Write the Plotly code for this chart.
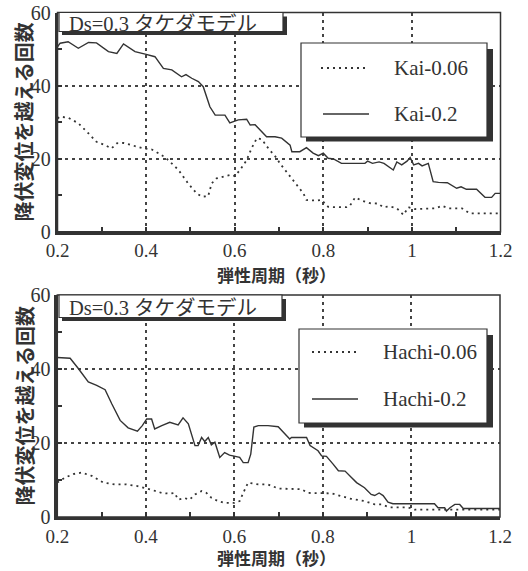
import plotly.graph_objects as go

# ---- data -------------------------------------------------------------
x_ticks = [0.2, 0.4, 0.6, 0.8, 1.0, 1.2]
x_tick_labels = ["0.2", "0.4", "0.6", "0.8", "1", "1.2"]
x_minor = [0.3, 0.5, 0.7, 0.9, 1.1]
y_ticks = [0, 20, 40, 60]
y_tick_labels = ["0", "20", "40", "60"]
y_minor = [10, 30, 50]

kai_02_period = [0.2, 0.206, 0.224, 0.247, 0.27, 0.288, 0.315, 0.334, 0.349, 0.375,
                 0.398, 0.42, 0.439, 0.458, 0.48, 0.49, 0.503, 0.518, 0.529, 0.544,
                 0.556, 0.578, 0.589, 0.608, 0.627, 0.635, 0.646, 0.657, 0.672, 0.691,
                 0.706, 0.725, 0.729, 0.747, 0.762, 0.777, 0.789, 0.8, 0.811, 0.823,
                 0.841, 0.894, 0.9, 0.911, 0.926, 0.937, 0.958, 0.966, 0.977, 0.989,
                 0.996, 1.004, 1.015, 1.023, 1.037, 1.048, 1.06, 1.08, 1.101, 1.111,
                 1.123, 1.146, 1.165, 1.18, 1.188, 1.2]
kai_02_count = [50.6, 51.6, 52.0, 50.2, 51.8, 51.7, 49.3, 48.8, 51.4, 49.3,
                48.6, 47.9, 44.7, 44.3, 42.4, 43.0, 42.0, 41.1, 39.7, 34.2,
                31.9, 31.9, 29.8, 30.6, 30.8, 29.2, 29.3, 27.8, 26.0, 26.0,
                25.6, 23.7, 21.9, 21.9, 23.0, 21.5, 20.8, 21.5, 20.1, 19.9,
                18.7, 18.7, 19.3, 18.7, 19.1, 18.7, 16.9, 19.1, 18.3, 19.3,
                20.3, 18.3, 18.7, 18.0, 18.7, 13.7, 13.5, 13.4, 11.9, 12.3,
                11.6, 11.6, 9.4, 9.4, 10.5, 10.5]

kai_006_period = [0.2, 0.206, 0.224, 0.247, 0.27, 0.288, 0.307, 0.322, 0.334, 0.349,
                  0.367, 0.394, 0.413, 0.435, 0.45, 0.473, 0.495, 0.514, 0.526, 0.54,
                  0.548, 0.559, 0.578, 0.593, 0.6, 0.612, 0.627, 0.638, 0.65, 0.661,
                  0.676, 0.695, 0.702, 0.717, 0.736, 0.755, 0.762, 0.785, 0.796, 0.811,
                  0.826, 0.853, 0.86, 0.872, 0.887, 0.905, 0.924, 0.935, 0.95, 0.966,
                  0.981, 0.992, 1.007, 1.03, 1.053, 1.068, 1.083, 1.113, 1.131, 1.157,
                  1.2]
kai_006_count = [31.0, 31.5, 31.2, 29.7, 26.9, 24.6, 23.7, 22.8, 24.2, 24.3,
                 23.7, 22.8, 22.5, 21.0, 19.6, 16.9, 13.2, 10.5, 9.6, 9.7,
                 13.2, 14.6, 15.2, 15.6, 15.2, 16.9, 19.6, 22.8, 25.6, 25.3,
                 22.8, 20.1, 18.7, 16.4, 13.7, 10.5, 8.7, 8.5, 8.7, 6.8,
                 6.7, 6.7, 7.1, 9.4, 8.5, 7.8, 7.7, 6.7, 6.9, 6.4,
                 4.6, 6.7, 6.2, 6.2, 6.4, 7.1, 6.4, 6.4, 5.0, 5.0,
                 5.0]

hachi_02_period = [0.2, 0.229, 0.247, 0.27, 0.289, 0.308, 0.323, 0.342, 0.36, 0.381,
                   0.392, 0.402, 0.413, 0.42, 0.436, 0.454, 0.473, 0.484, 0.496, 0.503,
                   0.511, 0.518, 0.526, 0.533, 0.541, 0.548, 0.556, 0.567, 0.578, 0.589,
                   0.601, 0.612, 0.62, 0.631, 0.637, 0.644, 0.654, 0.676, 0.699, 0.714,
                   0.725, 0.729, 0.763, 0.771, 0.789, 0.797, 0.808, 0.823, 0.835, 0.85,
                   0.861, 0.876, 0.894, 0.909, 0.917, 0.927, 0.936, 0.947, 0.958, 1.052,
                   1.06, 1.075, 1.079, 1.087, 1.098, 1.109, 1.117, 1.2]
hachi_02_count = [43.1, 42.9, 40.2, 36.5, 35.6, 34.4, 30.6, 26.1, 24.1, 23.2,
                  24.7, 26.5, 26.5, 23.8, 24.7, 25.6, 24.9, 26.8, 25.2, 22.5,
                  19.3, 19.3, 21.5, 20.4, 21.5, 19.5, 20.2, 16.1, 17.4, 16.7,
                  16.3, 16.1, 14.7, 14.7, 17.0, 24.3, 24.7, 24.7, 24.4, 22.4,
                  21.1, 21.5, 21.5, 19.3, 17.9, 16.5, 16.4, 14.3, 12.5, 12.4,
                  11.1, 9.3, 7.9, 6.1, 5.8, 6.5, 5.8, 4.0, 3.6, 3.6,
                  2.5, 2.5, 1.6, 2.5, 3.4, 3.4, 2.3, 2.3]

hachi_006_period = [0.2, 0.217, 0.236, 0.255, 0.278, 0.304, 0.33, 0.356, 0.379, 0.398,
                    0.417, 0.436, 0.454, 0.465, 0.473, 0.488, 0.499, 0.511, 0.526, 0.537,
                    0.548, 0.563, 0.578, 0.6, 0.612, 0.62, 0.631, 0.654, 0.676, 0.699,
                    0.729, 0.751, 0.767, 0.789, 0.819, 0.842, 0.864, 0.894, 0.917, 0.932,
                    0.951, 0.992, 1.007, 1.2]
hachi_006_count = [9.3, 10.6, 11.6, 12.0, 11.1, 9.3, 8.8, 8.8, 8.4, 7.9,
                   7.2, 6.5, 6.3, 6.5, 4.7, 5.1, 4.7, 6.1, 7.0, 6.5,
                   5.2, 4.3, 3.8, 3.8, 4.3, 6.5, 9.3, 8.8, 8.8, 7.7,
                   7.7, 7.5, 6.5, 6.4, 6.4, 5.6, 4.9, 4.3, 3.4, 3.4,
                   2.6, 2.6, 2.0, 2.0]

panel_title = "Ds=0.3 タケダモデル"
x_title = "弾性周期（秒）"
y_title = "降伏変位を越える回数"
top_names = ["Kai-0.06", "Kai-0.2"]
bottom_names = ["Hachi-0.06", "Hachi-0.2"]

# ---- styling ----------------------------------------------------------
W, H = 528, 571
INK = "#333333"
SERIF = "Liberation Serif, Times New Roman, Noto Sans CJK JP, serif"
GOTHIC = "Noto Sans CJK JP, sans-serif"
DOT = "2px,4px"


def xp(px):
    return px / W


def yp(py):
    return 1 - py / H


fig = go.Figure()

series = [
    (kai_006_period, kai_006_count, top_names[0], DOT, "x", "y"),
    (kai_02_period, kai_02_count, top_names[1], "solid", "x", "y"),
    (hachi_006_period, hachi_006_count, bottom_names[0], DOT, "x2", "y2"),
    (hachi_02_period, hachi_02_count, bottom_names[1], "solid", "x2", "y2"),
]
for px_, cnt, name, dash, xa, ya in series:
    fig.add_trace(go.Scatter(
        x=px_, y=cnt, name=name, mode="lines",
        line=dict(color=INK, width=1.4 if dash == "solid" else 1.8, dash=dash),
        xaxis=xa, yaxis=ya, showlegend=False,
    ))

# panel geometry (pixels)
panels = [
    dict(left=57.5, right=500.5, top=12.5, bottom=231.7),
    dict(left=57.3, right=500.0, top=295.0, bottom=517.0),
]

xaxis_common = dict(
    range=[0.2, 1.2], tickvals=x_ticks, ticktext=x_tick_labels,
    ticks="inside", ticklen=5, tickwidth=1.5, tickcolor=INK,
    showline=True, linewidth=2.5, linecolor=INK,
    showgrid=True, gridcolor="#444444", gridwidth=2, griddash="3px,4px",
    zeroline=False, automargin=False,
    minor=dict(tickvals=x_minor, ticks="inside", ticklen=5, tickwidth=1.5,
               tickcolor=INK, showgrid=False),
    tickfont=dict(family=SERIF, size=19, color=INK),
)
yaxis_common = dict(
    range=[0, 60], tickvals=y_ticks, ticktext=y_tick_labels,
    ticks="inside", ticklen=5, tickwidth=1.5, tickcolor=INK,
    showline=True, linewidth=2.5, linecolor=INK,
    showgrid=True, gridcolor="#444444", gridwidth=2, griddash="3px,4px",
    zeroline=False, automargin=False,
    minor=dict(tickvals=y_minor, ticks="inside", ticklen=5, tickwidth=1.5,
               tickcolor=INK, showgrid=False),
    tickfont=dict(family=SERIF, size=20, color=INK),
)

p0, p1 = panels
fig.update_layout(
    xaxis=dict(xaxis_common, domain=[xp(p0["left"]), xp(p0["right"])], anchor="y"),
    yaxis=dict(yaxis_common, domain=[yp(p0["bottom"]), yp(p0["top"])], anchor="x"),
    xaxis2=dict(xaxis_common, domain=[xp(p1["left"]), xp(p1["right"])], anchor="y2"),
    yaxis2=dict(yaxis_common, domain=[yp(p1["bottom"]), yp(p1["top"])], anchor="x2"),
)

shapes = []
annotations = []


def rect(x0, y0, x1, y1, **kw):
    shapes.append(dict(type="rect", xref="paper", yref="paper",
                       x0=xp(x0), x1=xp(x1), y0=yp(y1), y1=yp(y0), layer="above", **kw))


def seg(x0, y0, x1, y1, dash="solid", width=1.4):
    shapes.append(dict(type="line", xref="paper", yref="paper",
                       x0=xp(x0), x1=xp(x1), y0=yp(y0), y1=yp(y1), layer="above",
                       line=dict(color=INK, width=width, dash=dash)))


def text(x, y, s, size, family, anchor="left", vanchor="middle", angle=0, bold=False):
    annotations.append(dict(
        xref="paper", yref="paper", x=xp(x), y=yp(y), text=f"<b>{s}</b>" if bold else s,
        showarrow=False, xanchor=anchor, yanchor=vanchor, textangle=angle,
        font=dict(family=family, size=size, color=INK), borderpad=0,
    ))


# per-panel decorations: frame, title box, legend box, axis titles
deco = [
    dict(panel=p0, tbox=(59, 12.5, 283, 31.5), tcy=23.5,
         lbox=(301, 43, 487, 137), names=top_names,
         rows=[(68, 321, 367), (114, 323, 369)], tx=393,
         xt=(261, "top")),
    dict(panel=p1, tbox=(59, 295, 282, 317.5), tcy=308,
         lbox=(299, 329, 487, 423), names=bottom_names,
         rows=[(352, 312, 356), (399, 312, 358)], tx=382,
         xt=(571, "bottom")),
]
for d in deco:
    p = d["panel"]
    # thin frame on top/right
    rect(p["left"], p["top"], p["right"], p["bottom"], line=dict(color=INK, width=1.5))

    # title box with drop shadow
    bx0, by0, bx1, by1 = d["tbox"]
    rect(bx0 + 3, by0 + 4, bx1 + 4, by1 + 3.5, fillcolor=INK, line=dict(width=0))
    rect(bx0, by0, bx1, by1, fillcolor="white", line=dict(color=INK, width=1.2))
    text(bx0 + 9, d["tcy"], panel_title, 20.5, SERIF)

    # legend box with drop shadow
    lx0, ly0, lx1, ly1 = d["lbox"]
    rect(lx0 + 5, ly0 + 6, lx1 + 6, ly1 + 4.5, fillcolor=INK, line=dict(width=0))
    rect(lx0, ly0, lx1, ly1, fillcolor="white", line=dict(color=INK, width=1.2))
    (ya, sa0, sa1), (yb, sb0, sb1) = d["rows"]
    seg(sa0, ya, sa1, ya, dash=DOT, width=1.8)
    seg(sb0, yb, sb1, yb)
    text(d["tx"], ya, d["names"][0], 21, SERIF)
    text(d["tx"], yb, d["names"][1], 21, SERIF)

    # axis titles
    xt_y, xt_anchor = d["xt"]
    text(276, xt_y, x_title, 17, GOTHIC, anchor="center", vanchor=xt_anchor, bold=True)
    text(23.5, (p["top"] + p["bottom"]) / 2, y_title, 20, GOTHIC,
         anchor="center", angle=-90, bold=True)

fig.update_layout(
    width=W, height=H,
    margin=dict(l=0, r=0, t=0, b=0, pad=0, autoexpand=False),
    paper_bgcolor="white", plot_bgcolor="white",
    shapes=shapes, annotations=annotations,
    showlegend=False,
)

fig.write_html("out.html")
